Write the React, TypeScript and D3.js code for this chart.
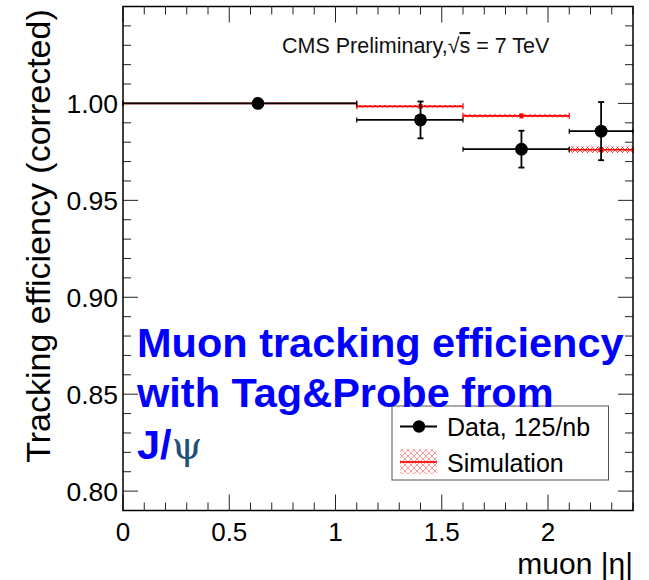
import React from "react";
import * as d3 from "d3";

// Bin edges in muon |eta|
const binEdges = [0, 1.1, 1.6, 2.1, 2.4];
// Data points (mean |eta| in bin, efficiency, stat. error)
const dataX = [0.635, 1.4, 1.875, 2.25];
const dataY = [1.0, 0.9915, 0.9764, 0.9857];
const dataErr = [0.0008, 0.0095, 0.0095, 0.015];
// Simulation efficiency per bin and its uncertainty band
const simY = [1.0, 0.9985, 0.9936, 0.9761];
const simErr = [0.0003, 0.0007, 0.0008, 0.0017];

const yLabels = ["0.80", "0.85", "0.90", "0.95", "1.00"];
const xLabels = ["0", "0.5", "1", "1.5", "2"];

const W = 649;
const H = 580;
const FONT = "'Liberation Sans', Arial, Helvetica, sans-serif";

export default function App() {
  const x = d3.scaleLinear().domain([0, 2.4]).range([123, 633]);
  const y = d3.scaleLinear().domain([0.79, 1.05]).range([510.5, 6.5]);
  const [x0, x1] = x.range();
  const [yb, yt] = y.range();

  const xMinor = d3.range(0, 24.01, 1).map((v) => v / 10);
  const yMinor = d3.range(79, 105.01, 1).map((v) => v / 100);
  const isXMajor = (v: number) => Math.abs(v * 2 - Math.round(v * 2)) < 1e-6;
  const isYMajor = (v: number) => Math.abs(v * 20 - Math.round(v * 20)) < 1e-6;

  const tickStroke = "#222";

  return (
    <div style={{ position: "absolute", left: 0, top: 0, width: W, height: H, background: "#fff" }}>
      <svg width={W} height={H} style={{ display: "block", fontFamily: FONT }}>
        <defs>
          <pattern id="hatch" width="5" height="5" patternUnits="userSpaceOnUse">
            <path d="M0,0 L5,5 M5,0 L0,5" stroke="#ff3030" strokeWidth="0.9" fill="none" />
          </pattern>
          <pattern id="hatchLight" width="6" height="6" patternUnits="userSpaceOnUse">
            <path d="M0,0 L6,6 M6,0 L0,6" stroke="#ff9a9a" strokeWidth="1" fill="none" />
          </pattern>
        </defs>
        <rect x={0} y={0} width={W} height={H} fill="#fff" />

        {/* axis ticks */}
        {xMinor.map((v, i) => {
          const len = isXMajor(v) ? 16 : 8;
          return (
            <g key={"xt" + i} stroke={tickStroke} strokeWidth={1}>
              <line x1={x(v)} x2={x(v)} y1={yb} y2={yb - len} />
              <line x1={x(v)} x2={x(v)} y1={yt} y2={yt + len} />
            </g>
          );
        })}
        {yMinor.map((v, i) => {
          const len = isYMajor(v) ? 15 : 8;
          return (
            <g key={"yt" + i} stroke={tickStroke} strokeWidth={1}>
              <line x1={x0} x2={x0 + len} y1={y(v)} y2={y(v)} />
              <line x1={x1} x2={x1 - len} y1={y(v)} y2={y(v)} />
            </g>
          );
        })}

        {/* tick labels */}
        {yLabels.map((s) => (
          <text key={s} x={118} y={y(+s) + 9.5} fontSize={26.5} textAnchor="end" fill="#000">
            {s}
          </text>
        ))}
        {xLabels.map((s) => (
          <text key={s} x={x(+s)} y={541} fontSize={26} textAnchor="middle" fill="#000">
            {s}
          </text>
        ))}

        {/* axis titles */}
        <text
          transform={`translate(50,236) rotate(-90)`}
          fontSize={34}
          textAnchor="middle"
          fill="#000"
        >
          Tracking efficiency (corrected)
        </text>
        <text x={633} y={573.5} fontSize={30} textAnchor="end" fill="#000">
          muon |η|
        </text>

        {/* simulation */}
        {simY.map((v, i) => {
          const a = x(binEdges[i]);
          const b = x(binEdges[i + 1]);
          const top = y(v + simErr[i]);
          const bot = y(v - simErr[i]);
          return (
            <g key={"sim" + i}>
              <rect x={a} y={top} width={b - a} height={Math.max(bot - top, 1)} fill="url(#hatch)" />
              <line x1={a} x2={b} y1={y(v)} y2={y(v)} stroke="#ff0000" strokeWidth={1.6} />
              <line x1={a} x2={a} y1={y(v) - 3} y2={y(v) + 3} stroke="#ff0000" strokeWidth={1.2} />
              <line x1={b} x2={b} y1={y(v) - 3} y2={y(v) + 3} stroke="#ff0000" strokeWidth={1.2} />
              <rect x={x(dataX[i]) - 2} y={y(v) - 2.5} width={4} height={5} fill="#ff0000" />
            </g>
          );
        })}

        {/* data */}
        {dataY.map((v, i) => {
          const a = x(binEdges[i]);
          const b = x(binEdges[i + 1]);
          const cx = x(dataX[i]);
          const cy = y(v);
          const up = y(v + dataErr[i]);
          const dn = y(v - dataErr[i]);
          return (
            <g key={"d" + i} stroke="#000" strokeWidth={1.8}>
              <line x1={a} x2={b} y1={cy} y2={cy} />
              <line x1={a} x2={a} y1={cy - 2.5} y2={cy + 2.5} strokeWidth={1.2} />
              <line x1={b} x2={b} y1={cy - 2.5} y2={cy + 2.5} strokeWidth={1.2} />
              <line x1={cx} x2={cx} y1={up} y2={dn} />
              {dataErr[i] > 0.002 && (
                <>
                  <line x1={cx - 3} x2={cx + 3} y1={up} y2={up} />
                  <line x1={cx - 3} x2={cx + 3} y1={dn} y2={dn} />
                </>
              )}
              <circle cx={cx} cy={cy} r={6.4} fill="#000" stroke="none" />
            </g>
          );
        })}

        {/* frame */}
        <rect x={x0} y={yt} width={x1 - x0} height={yb - yt} fill="none" stroke="#000" strokeWidth={1.5} />

        {/* CMS label */}
        <text x={282} y={53} fontSize={21.5} fill="#111">
          CMS Preliminary,
          <tspan>√</tspan>
          <tspan textDecoration="overline">s</tspan> = 7 TeV
        </text>

        {/* legend */}
        <rect x={392} y={406} width={216.5} height={74} fill="#fff" stroke="#555" strokeWidth={1} />
        <line x1={400} x2={437} y1={426.5} y2={426.5} stroke="#000" strokeWidth={1.8} />
        <circle cx={419} cy={426.5} r={6.2} fill="#000" />
        <text x={447} y={436} fontSize={25} fill="#000">
          Data, 125/nb
        </text>
        <rect x={400} y={449} width={37} height={25} fill="url(#hatchLight)" />
        <line x1={400} x2={437} y1={462} y2={462} stroke="#ff2020" strokeWidth={2} />
        <text x={447} y={472} fontSize={25} fill="#000">
          Simulation
        </text>

        {/* annotation */}
        <g fontWeight="bold" fontSize={41.5} fill="#0000ff">
          <text x={137} y={357}>Muon tracking efficiency</text>
          <text x={137} y={407}>with Tag&amp;Probe from</text>
          <text x={137} y={459}>
            J/
            <tspan fontWeight="normal" fill="#1f4f7c" fontFamily="'DejaVu Serif', serif" fontSize={39}>
              ψ
            </tspan>
          </text>
        </g>
      </svg>
    </div>
  );
}
